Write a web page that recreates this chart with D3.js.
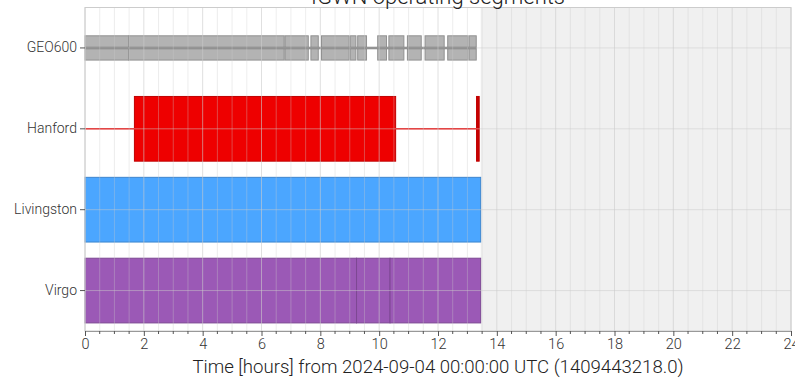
<!DOCTYPE html>
<html>
<head>
<meta charset="utf-8">
<script src="https://cdn.jsdelivr.net/npm/d3@7"></script>
<style>
  html, body { margin: 0; padding: 0; background: #fff; }
  svg { display: block; font-family: Roboto, "Noto Sans", sans-serif; font-weight: 300; }
</style>
</head>
<body>
<svg id="chart" width="795" height="381"></svg>
<script>
// Detector names, top to bottom
const detectors = ["GEO600", "Hanford", "Livingston", "Virgo"];
const colors = ["#b3b3b3", "#ee0000", "#4ba6ff", "#9b59b6"];
// Bar height as a fraction of each row
const barFrac = [0.3, 0.8, 0.8, 0.8];

// Active segments per detector, hours from 2024-09-04 00:00:00 UTC
const geo600Segments = [[0, 1.48], [1.48, 6.77], [6.8, 7.59], [7.68, 7.93], [8.04, 8.98],
  [9.02, 9.21], [9.27, 9.57], [9.95, 10.25], [10.33, 10.84], [10.96, 11.43],
  [11.56, 12.21], [12.33, 13.02], [13.06, 13.3]];
const hanfordSegments = [[1.68, 10.56], [13.31, 13.4]];
const livingstonSegments = [[0, 13.45]];
const virgoSegments = [[0, 9.23], [9.23, 10.37], [10.37, 13.45]];
const segments = [geo600Segments, hanfordSegments, livingstonSegments, virgoSegments];

// Known-time spans drawn as a line through the row centre (null = none)
const knownSpans = [[0, 13.3], [0, 13.38], null, null];
const knownColors = ["#808080", "#ee0000", null, null];
const knownWidths = [2.4, 1.4, 0, 0];

// End of available data; everything after it is shaded
const dataEnd = 13.45;

// Axis ticks
const majorTicks = [0, 2, 4, 6, 8, 10, 12, 14, 16, 18, 20, 22, 24];
const minorTicks = d3.range(0, 24.01, 0.5);

const title = "IGWN operating segments";
const xLabel = "Time [hours] from 2024-09-04 00:00:00 UTC (1409443218.0)";

const margin = { left: 85, right: 4, top: 7.5, bottom: 50 };
const W = 795, H = 381;
const svg = d3.select("#chart");

const x = d3.scaleLinear().domain([0, 24]).range([margin.left, W - margin.right]);
const y = d3.scaleBand().domain(detectors).range([margin.top, H - margin.bottom]).padding(0);
const yC = d => y(d) + y.bandwidth() / 2;

const x0 = x.range()[0], x1 = x.range()[1];
const y0 = y.range()[0], y1 = y.range()[1];

// Shaded future region
svg.append("rect")
  .attr("x", x(dataEnd)).attr("y", y0)
  .attr("width", x1 - x(dataEnd)).attr("height", y1 - y0)
  .attr("fill", "#f0f0f0");

// Segments
detectors.forEach((det, i) => {
  const g = svg.append("g");
  const h = y.bandwidth() * barFrac[i];
  const base = d3.color(colors[i]);
  g.selectAll("rect")
    .data(segments[i])
    .join("rect")
    .attr("x", d => x(d[0]))
    .attr("y", yC(det) - h / 2)
    .attr("width", d => Math.max(x(d[1]) - x(d[0]), 0.5))
    .attr("height", h)
    .attr("fill", d => (x(d[1]) - x(d[0]) < 4) ? base.darker(0.5) : colors[i])
    .attr("stroke", base.darker(0.6))
    .attr("stroke-width", 1);
  if (knownSpans[i]) {
    g.append("line")
      .attr("x1", x(knownSpans[i][0])).attr("x2", x(knownSpans[i][1]))
      .attr("y1", yC(det)).attr("y2", yC(det))
      .attr("stroke", knownColors[i])
      .attr("stroke-width", knownWidths[i]);
  }
});

// Grid on top, semi-transparent
const grid = svg.append("g").attr("pointer-events", "none");
grid.selectAll("line.minor")
  .data(minorTicks)
  .join("line")
  .attr("class", "minor")
  .attr("x1", d => x(d)).attr("x2", d => x(d))
  .attr("y1", y0).attr("y2", y1)
  .attr("stroke", "#cccccc")
  .attr("stroke-opacity", d => majorTicks.includes(d) ? 0.6 : 0.35)
  .attr("stroke-width", 1);
grid.selectAll("line.row")
  .data(detectors)
  .join("line")
  .attr("class", "row")
  .attr("x1", x0).attr("x2", x1)
  .attr("y1", d => yC(d)).attr("y2", d => yC(d))
  .attr("stroke", "#cccccc")
  .attr("stroke-opacity", 0.5)
  .attr("stroke-width", 1);

// Frame
svg.append("rect")
  .attr("x", x0).attr("y", y0)
  .attr("width", x1 - x0).attr("height", y1 - y0)
  .attr("fill", "none")
  .attr("stroke", "#cccccc")
  .attr("stroke-width", 1);

// X axis
const xAxis = svg.append("g")
  .attr("transform", `translate(0,${y1})`)
  .call(d3.axisBottom(x).tickValues(majorTicks).tickSize(5).tickPadding(3).tickFormat(d3.format("d")));
xAxis.select(".domain").attr("stroke", "#999");
xAxis.selectAll(".tick line").attr("stroke", "#555");
xAxis.selectAll(".tick text")
  .attr("font-size", 14.5).attr("fill", "#333")
  .attr("font-family", "Roboto, sans-serif").attr("font-weight", 300);
svg.append("g")
  .attr("transform", `translate(0,${y1})`)
  .selectAll("line")
  .data(minorTicks.filter(t => !majorTicks.includes(t)))
  .join("line")
  .attr("x1", d => x(d)).attr("x2", d => x(d))
  .attr("y1", 0).attr("y2", 3)
  .attr("stroke", "#555");

// Y axis
const yAxis = svg.append("g")
  .attr("transform", `translate(${x0},0)`)
  .call(d3.axisLeft(y).tickSize(5).tickPadding(3));
yAxis.select(".domain").remove();
yAxis.selectAll(".tick line").attr("stroke", "#555");
yAxis.selectAll(".tick text")
  .attr("font-size", 14).attr("fill", "#333")
  .attr("font-family", "Roboto, sans-serif").attr("font-weight", 300);

// Title and axis label
svg.append("text")
  .attr("x", (x0 + x1) / 2).attr("y", 4)
  .attr("text-anchor", "middle")
  .attr("font-size", 22).attr("fill", "#222")
  .text(title);
svg.append("text")
  .attr("x", (x0 + x1) / 2).attr("y", 373)
  .attr("text-anchor", "middle")
  .attr("font-size", 18.6).attr("fill", "#222")
  .text(xLabel);
</script>
</body>
</html>
